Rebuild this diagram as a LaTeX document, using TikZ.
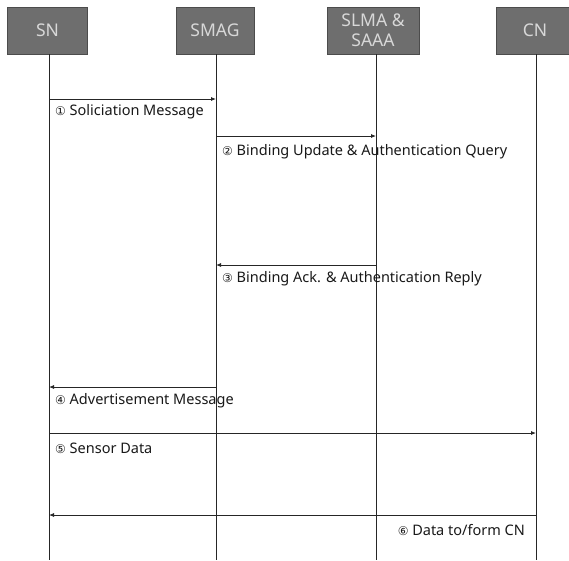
\documentclass[tikz,border=0pt]{standalone}
\usepackage{fontspec}
\setmainfont{Noto Sans}
\newfontfamily\symfont{DejaVu Sans}
\usetikzlibrary{arrows.meta}
\definecolor{boxfill}{HTML}{6E6E6E}
\definecolor{boxline}{HTML}{4C4C4C}
\definecolor{boxtext}{HTML}{D8D8D8}
\tikzset{
  actor/.style={draw=boxline, line width=0.8pt, fill=boxfill, text=boxtext, minimum height=47pt, align=center, inner sep=0pt, font=\fontsize{17.5}{20}\selectfont},
  lifeline/.style={draw=black!85, line width=0.8pt},
  msg/.style={draw=black!85, line width=0.8pt, -{Latex[length=5pt,width=4pt]}},
  lbl/.style={font=\fontsize{14.5}{16}\selectfont, inner sep=0pt, text=black!90},
}
\newcommand{\cnum}[1]{{\symfont\fontsize{12}{14}\selectfont #1}}
\begin{document}
\begin{tikzpicture}[x=1pt,y=1pt]
\useasboundingbox (0,0) rectangle (569,-560);
\fill[white] (0,0) rectangle (569,-560);
% actors
\node[actor, minimum width=80pt] (sn) at (47.5,-30.5) {SN};
\node[actor, minimum width=78pt] (smag) at (215,-30.5) {SMAG};
\node[actor, minimum width=92pt] (slma) at (373,-30.5) {SLMA \&\\SAAA};
\node[actor, minimum width=78pt] (cn) at (535,-30.5) {CN};
% lifeline ends
\coordinate (snE) at (49,-560);
\coordinate (smagE) at (216,-560);
\coordinate (slmaE) at (376,-560);
\coordinate (cnE) at (536,-560);
\draw[lifeline] (sn.south -| snE) -- (snE);
\draw[lifeline] (smag.south -| smagE) -- (smagE);
\draw[lifeline] (slma.south -| slmaE) -- (slmaE);
\draw[lifeline] (cn.south -| cnE) -- (cnE);
% message rows
\coordinate (m1) at (0,-99);
\coordinate (m2) at (0,-136);
\coordinate (m3) at (0,-265);
\coordinate (m4) at (0,-387);
\coordinate (m5) at (0,-433);
\coordinate (m6) at (0,-515);
\draw[msg] (snE |- m1) -- (smagE |- m1);
\draw[msg] (smagE |- m2) -- (slmaE |- m2);
\draw[msg] (slmaE |- m3) -- (smagE |- m3);
\draw[msg] (smagE |- m4) -- (snE |- m4);
\draw[msg] (snE |- m5) -- (cnE |- m5);
\draw[msg] (cnE |- m6) -- (snE |- m6);
% labels
\node[lbl, anchor=west] (l1) at (55,-112) {\cnum{①} Soliciation Message};
\node[lbl, anchor=west] (l2) at (222,-152) {\cnum{②} Binding Update \& Authentication Query};
\node[lbl, anchor=west] (l3) at (222,-279) {\cnum{③} Binding Ack. \& Authentication Reply};
\node[lbl, anchor=west] (l4) at (55,-401) {\cnum{④} Advertisement Message};
\node[lbl, anchor=west] (l5) at (55,-448) {\cnum{⑤} Sensor Data};
\node[lbl, anchor=east] (l6) at (525,-530) {\cnum{⑥} Data to/form CN};
\end{tikzpicture}
\end{document}
